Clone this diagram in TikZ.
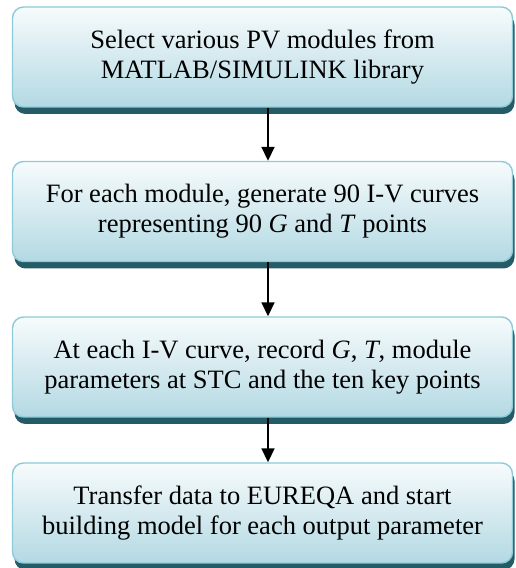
\documentclass[tikz,border=0pt]{standalone}
\usepackage{fontspec}
\setmainfont{Liberation Serif}
\usetikzlibrary{shadows,arrows.meta}
\definecolor{shadowc}{HTML}{245B67}
\definecolor{borderc}{HTML}{8DCADA}
\definecolor{fillbot}{HTML}{B3D9E3}
\definecolor{filltop}{HTML}{F7FBFC}
\tikzset{
  stepbox/.style={draw=borderc, line width=1.4pt, rounded corners=11pt,
    top color=filltop, bottom color=fillbot,
    minimum width=500pt, minimum height=100pt, inner sep=0pt,
    align=center, font=\fontsize{26.5}{30}\selectfont,
    drop shadow={shadow xshift=2pt, shadow yshift=-7pt, fill=shadowc, opacity=1}},
  arr/.style={line width=1.8pt, -{Triangle[length=14pt,width=13pt]}}
}
\begin{document}
\begin{tikzpicture}[x=1pt,y=1pt]
\useasboundingbox (0,0) rectangle (515,568);
\node[stepbox] (b1) at (262.5,511) {Select various PV modules from\\MATLAB/SIMULINK library};
\node[stepbox] (b2) at (262.5,356.5) {For each module, generate 90 I-V curves\\representing 90 \textit{G} and \textit{T} points};
\node[stepbox] (b3) at (262.5,201) {At each I-V curve, record \textit{G}, \textit{T}, module\\parameters at STC and the ten key points};
\node[stepbox] (b4) at (262.5,55) {Transfer data to EUREQA and start\\building model for each output parameter};
\draw[arr] ([xshift=5.5pt]b1.south) -- ([xshift=5.5pt]b2.north);
\draw[arr] ([xshift=5.5pt]b2.south) -- ([xshift=5.5pt]b3.north);
\draw[arr] ([xshift=5.5pt]b3.south) -- ([xshift=5.5pt]b4.north);
\end{tikzpicture}
\end{document}
